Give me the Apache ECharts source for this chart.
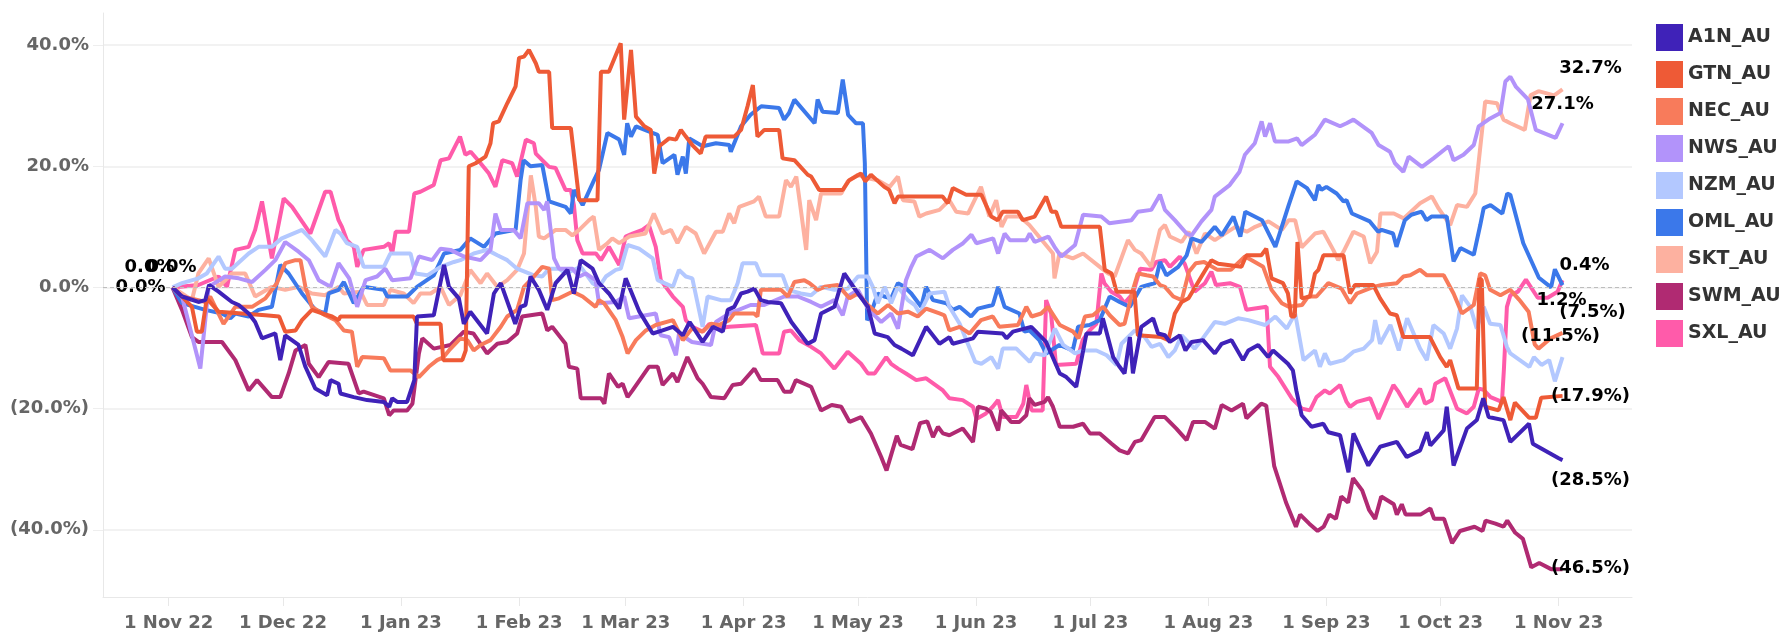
<!DOCTYPE html>
<html>
<head>
<meta charset="utf-8">
<title>Relative performance</title>
<script src="https://cdn.jsdelivr.net/npm/echarts@6/dist/echarts.min.js"></script>
<style>
  html, body { margin: 0; padding: 0; background: #fff; }
  #chart { width: 1779px; height: 635px; }
</style>
</head>
<body>
<div id="chart"></div>
<script>
// day 0 = first trading day of the window
const startDate = '2022-11-02';
const monthTicks = ['2022-11-01', '2022-12-01', '2023-01-01', '2023-02-01', '2023-03-01', '2023-04-01',
  '2023-05-01', '2023-06-01', '2023-07-01', '2023-08-01', '2023-09-01', '2023-10-01', '2023-11-01'];
const yTicks = [-40, -20, 0, 20, 40];

const names = ['A1N_AU', 'GTN_AU', 'NEC_AU', 'NWS_AU', 'NZM_AU', 'OML_AU', 'SKT_AU', 'SWM_AU', 'SXL_AU'];
const colors = ['#3f22b8', '#ee5a36', '#f87b5b', '#b293fa', '#b3c8ff', '#3b78ea', '#fdb1a0', '#b02a72', '#ff5baa'];

// [day, % change]
const A1N_AU = [[0,0],[2.5,-1.5],[6.8,-2.4],[8.6,-2.1],[9.6,0.4],[12.1,-0.7],[15.6,-2.4],[17.4,-2.9],[20,-4.3],[21.7,-5.7],[23.5,-8.4],[27,-7.6],[28.3,-12],[29.6,-7.9],[33.1,-9.5],[34.9,-13.1],[37.5,-16.7],[40.6,-17.8],[41.5,-15.3],[43.6,-15.9],[44.1,-17.5],[47.6,-18.1],[51.1,-18.6],[55.5,-18.9],[56.9,-19.7],[57.7,-18.3],[59,-18.9],[61.6,-18.9],[63.5,-15.3],[64.2,-4.8],[68.6,-4.6],[71.3,3.7],[72.6,0.1],[75.2,-1.8],[76.5,-6],[78.2,-4],[82.6,-7.6],[84.4,-1],[86.2,0.7],[90,-6],[91.4,-3.2],[92.7,-2.9],[94,1.8],[96.2,-0.4],[98.4,-3.7],[100.6,0.7],[103.7,2.9],[105.4,-1],[107.2,4.5],[110.3,3.1],[112,0.7],[114.6,-1],[117.3,-3.5],[119,1.5],[122.6,-4],[126.1,-7.6],[128.7,-7.1],[131.4,-6.5],[134,-7.9],[135.8,-5.7],[139.2,-9],[141.9,-6.5],[144.5,-7.3],[145.8,-3.7],[147.5,-3.2],[149.3,-1],[151,-0.7],[152.8,-0.2],[154.5,-2.1],[156.3,-2.4],[159.8,-2.6],[162.5,-5.7],[166.8,-9.3],[168.6,-8.7],[170.3,-4.3],[173.8,-3.2],[176.4,2.3],[180,-1],[182.6,-3.2],[184.4,-7.6],[187.8,-8.2],[189.6,-9.5],[191.4,-10.1],[194.4,-11.2],[197.9,-6.5],[201.4,-9.3],[204,-8.2],[204.9,-9.3],[210.2,-8.4],[211.5,-7.3],[218,-7.6],[219,-8.4],[220.7,-7.3],[225.5,-6.5],[229.4,-9],[233,-14.2],[234.7,-14.8],[237.3,-16.4],[240,-7.6],[243.5,-7.6],[244.3,-5.1],[247,-11.5],[248.7,-13.1],[250,-14.2],[251.4,-8.2],[252.2,-14.2],[254.4,-6.5],[257.5,-5.1],[258.8,-7.6],[260.6,-7.9],[261.9,-9],[264.5,-7.9],[266,-10.4],[267.6,-9],[270.6,-8.7],[273.7,-10.9],[275.5,-9.3],[278.1,-8.7],[281.1,-12],[282.5,-10.4],[285.1,-9.5],[287.7,-11.5],[289,-10.4],[292.9,-12.6],[294.2,-13.7],[295.1,-17],[296.5,-21.1],[299.1,-23],[302.2,-22.5],[303.5,-23.9],[306.6,-24.4],[308.8,-30.5],[310.1,-24.1],[314,-29.4],[317.1,-26.3],[321.5,-25.5],[324.1,-28],[327.6,-26.9],[329.4,-23.9],[330.3,-26.1],[333.8,-23.6],[334.6,-19.7],[336.4,-29.4],[339.9,-23.3],[342.5,-21.9],[344.2,-18.3],[345.6,-21.4],[349.5,-21.9],[351.3,-25.5],[356.2,-22.5],[357.2,-25.8],[364,-28.2],[365,-28.5]];

const GTN_AU = [[0,0],[2.5,-1.5],[5.1,-3.2],[6.4,-7.3],[7.7,-7.3],[9,-1.8],[12.1,-4],[24.4,-4.6],[28,-4.8],[29.6,-7.3],[32.3,-7.1],[34,-5.4],[36.6,-3.7],[39.3,-4.3],[41.9,-4.8],[43.6,-5.4],[44.1,-4.8],[63.3,-4.8],[64.2,-6],[70.4,-6],[71.1,-12],[76.1,-12],[77,-10.4],[77.8,20],[79.6,20.5],[82.2,21.6],[83.5,23.8],[84.2,27.1],[85.7,27.4],[87.9,30.4],[90.1,33.2],[91,37.9],[92.3,38.1],[93.6,39.2],[95.4,37],[96.2,35.6],[98.9,35.6],[99.7,26.3],[104.6,26.3],[106.8,14.4],[111.6,14.4],[112.5,35.6],[114.6,35.6],[117.7,40.3],[118.6,27.7],[120.4,39.2],[121.7,28.2],[123.9,26.6],[125.6,26],[126.5,18.8],[127.8,23.3],[130.4,24.6],[132.2,24.4],[133.5,26],[134.8,24.9],[136.5,23.5],[138.7,22.1],[140,24.9],[147.5,24.9],[149.3,26],[151,29.9],[152.4,33.4],[153.6,24.9],[155.4,26],[159.3,26],[160.2,21.3],[163.3,21],[166.8,18.6],[167.7,18.3],[169.8,16.1],[176,16.1],[177.7,17.7],[180.8,18.8],[181.9,17.5],[183.4,18.6],[186.9,16.6],[188.2,16.1],[189.6,13.9],[190.5,15],[202.2,15],[203.6,13.9],[204.9,16.4],[208.4,15.3],[212.4,15.3],[215,11.7],[216.7,11.1],[218,12.5],[222,12.5],[223.3,11.1],[226.4,11.7],[229.4,15],[230.8,12.5],[232,12.5],[233.4,10],[243.5,10],[244.8,2.9],[246.6,2.3],[247.9,-0.7],[252.6,-0.7],[253.5,-7.9],[259.7,-8.2],[261.5,-8.7],[263.2,-4.3],[265,-2.4],[266.8,-1.8],[270.2,1.8],[272.8,4.5],[274.6,3.9],[280.7,3.4],[282,5.3],[285.9,5.3],[287.2,6.4],[288.6,1.5],[291.6,0.7],[292.9,-1],[293.8,-4.8],[294.7,-4.8],[295.4,7.5],[296.5,-1.8],[298.7,-1.5],[300,2.3],[300.9,2.9],[302.2,5.3],[307.5,5.3],[309.2,-1],[310.5,0.4],[315.3,0.4],[317.1,-1.8],[319.7,-4.3],[321.5,-4.6],[323.2,-8.2],[330.2,-8.2],[332.9,-11.5],[334.6,-13.1],[335.5,-12],[337.7,-16.7],[342.5,-16.7],[343.2,1.5],[343.8,1.2],[344.7,-19.7],[348.2,-20.3],[349.5,-18.1],[351.3,-21.9],[352.5,-19],[356.2,-21.5],[358,-21.5],[359.4,-18.2],[365,-17.9]];

const NEC_AU = [[0,0],[2.5,-1.5],[6.8,-2.1],[8.6,-2.4],[9.9,-1.5],[13.4,-6],[16.5,-3.2],[20.9,-3.2],[24.4,-1.8],[27.4,0.7],[29.6,4],[32.3,4.5],[33.6,4.5],[34.9,0.1],[36.6,-3.2],[40.1,-4.6],[42.8,-5.4],[45,-7.1],[47.1,-7.3],[48.5,-13.1],[49.8,-11.5],[55.5,-11.7],[57.2,-13.7],[62.5,-13.7],[64.7,-14.8],[67.3,-13.1],[69.5,-12],[71.2,-11.5],[72.6,-10.4],[75.6,-8.4],[77.4,-8.7],[79.1,-10.4],[80.9,-9.5],[83.5,-8.7],[86.2,-6.5],[87.9,-4.8],[90.5,-3.7],[92.3,0.1],[94.9,1.8],[97.1,3.4],[98.9,3.1],[99.7,-2.1],[101.5,-1.8],[105,-0.7],[107.7,-1.5],[111.1,-3.2],[112,-2.1],[113.3,-2.6],[116.4,-5.4],[118.2,-8.2],[119.5,-10.9],[121.7,-8.7],[124.3,-7.1],[126.9,-6.2],[131.4,-5.4],[134,-8.7],[136.4,-6.8],[139.2,-7.3],[141.4,-6],[143.5,-6.2],[146.2,-5.4],[147.5,-4.3],[152.7,-4.3],[153.6,-4.8],[154.5,-0.4],[159.8,-0.4],[161.6,-1.5],[163.3,0.9],[165.9,1.2],[167.3,0.7],[169.4,-0.4],[171.2,0.1],[174.7,0.4],[177.8,-1.8],[180,-1],[182.6,-2.9],[185.2,-4.3],[187.9,-2.9],[190.5,-4.3],[193.1,-4],[195.7,-4.8],[197.9,-3.5],[201.4,-4.3],[202.7,-4.6],[204,-7.1],[206.7,-6.5],[209.3,-7.6],[212.3,-5.4],[215.4,-4.8],[217.1,-6.5],[222,-6.2],[224.2,-3.2],[225.6,-4.8],[228.1,-4.3],[229.9,-3.2],[233,-6.2],[236.5,-7.3],[237.9,-8.4],[239.6,-4.8],[241.7,-4.6],[244.4,-3.2],[246.1,-4.6],[248.7,-6.2],[250,-6],[252.2,-0.4],[253.5,2.3],[255.8,2],[257.5,1.8],[259.3,0.4],[260.6,0.1],[262.8,-1.5],[265,-2.1],[266.9,2.6],[268.7,4],[270.9,4.2],[274.4,2.9],[277.9,2.9],[281.6,5.1],[283.4,4.5],[286.4,3.4],[288.6,-0.4],[291.3,-2.6],[293.1,-3.2],[296.6,-2.9],[298.2,-1.5],[300.4,-1.5],[303.5,0.7],[307,-0.2],[309.2,-2.6],[311,-1],[315.4,0.1],[317.5,0.4],[321.5,0.7],[323.2,1.8],[325,2],[327.6,2.9],[329.4,2],[333.8,2],[336.4,-1],[338.6,-4.3],[341.7,-2.9],[343.4,2.3],[344.7,2],[346,-0.4],[348.7,-1.3],[351.3,-0.4],[353.6,-2],[356.1,-4],[357.7,-9.4],[358.7,-10.1],[361.9,-8.4],[365,-7.5]];

const NWS_AU = [[0,0],[2.5,-1.5],[7.3,-13.4],[9.5,0.1],[13.8,1.8],[17.4,1.5],[20.9,0.9],[24.4,2.9],[27,4.5],[29.6,7.5],[33.1,5.9],[35.8,4.5],[38.4,1.2],[41.5,0.1],[43.6,4],[44.1,4],[46.4,1.5],[48.5,-3.2],[50.7,1.2],[53.7,1.8],[55.9,3.1],[57.7,1.2],[62.5,1.5],[64.7,5.1],[68.2,4.5],[70.4,6.4],[73,6.2],[76.5,5.1],[80.9,4.5],[83.5,6.2],[84.8,12.2],[86.2,9.5],[89.6,9.5],[91.4,8.1],[93.2,13.9],[96.2,13.9],[97.6,12.8],[98.4,14.2],[100.2,4.8],[101.5,3.1],[105,3.1],[106.8,1.8],[108.5,2.3],[111.1,1.2],[112,-2.6],[116.4,-2.4],[118.6,-1.5],[119.9,-5.1],[126.9,-4.3],[128.2,-7.9],[130.4,-8.2],[132.2,-11.2],[133,-7.6],[136.4,-9],[141.4,-9.5],[142.7,-5.7],[146.2,-4.3],[147.5,-4],[151.8,-2.9],[155.4,-2.9],[160.6,-1.5],[164.2,-1.5],[167.7,-2.4],[170.3,-3.2],[173.8,-2.1],[176,-4.6],[177.3,-1.5],[180,-0.4],[182.6,-3.5],[186.1,-5.7],[188.7,-4.3],[190.5,-6.8],[192.6,1.2],[194,3.4],[195.3,5.1],[198.8,6.2],[202.3,4.8],[204.9,6.2],[207.6,7.3],[209.8,8.7],[211.1,7.3],[215.5,8.1],[216.8,5.6],[218.5,8.9],[219.9,7.8],[224.2,7.8],[225.1,8.9],[226.4,7.5],[230,8.4],[231.6,6.7],[233.4,5.1],[237,7],[239.1,12],[243.9,11.7],[246,10.6],[251.8,11.1],[253.5,12.5],[257,12.8],[259.3,15.3],[260.6,12.8],[263.2,11.1],[266.3,8.9],[267.6,8.6],[270.2,10.9],[272.8,12.8],[273.7,15],[277.6,16.9],[280.2,19.1],[281.6,21.9],[284.2,23.8],[286,27.4],[286.9,24.9],[288.2,27.1],[289.5,24.1],[293.1,24.1],[295.3,24.6],[296.5,23.5],[300,25.2],[302.6,27.7],[306.6,26.6],[308.3,27.1],[310.1,27.7],[314.9,25.5],[316.7,23.5],[319.7,22.4],[321,20.5],[323.2,19.1],[324.6,21.6],[328.1,19.9],[331.1,21.3],[335.1,23.3],[336.4,21],[339,21.9],[341.7,23.5],[343,26.6],[346,27.9],[348.7,28.8],[350,34],[351.3,34.8],[352.8,33.1],[355.9,31.1],[358,26],[363.2,24.7],[365,27.1]];

const NZM_AU = [[0,0],[2.5,0.7],[6.8,1.5],[9,2.3],[12.1,5.1],[13.8,3.1],[15.6,3.1],[20,5.6],[22.6,6.7],[26.1,6.7],[28.7,8.1],[34,9.5],[36.6,7.8],[40.1,5.1],[42.8,9.5],[44.1,8.9],[45.8,7.3],[48.5,6.7],[50.2,3.4],[55.5,3.4],[57.2,5.6],[62.5,5.6],[63.8,2.3],[66.9,2],[70.4,3.4],[73.9,4.2],[75.6,4.5],[79.1,5.6],[82.6,6.2],[85.3,5.3],[87.9,4.5],[90.5,3.1],[94.9,2],[97.1,1.8],[98.9,3.1],[101.5,3.1],[103.2,2.3],[107.2,3.4],[110.3,0.7],[112,0.1],[113.8,1.8],[116.4,2.9],[117.7,3.1],[119.5,7],[122.5,6.4],[126.1,4.8],[127.4,1.2],[131.4,0.1],[133,2.9],[134.8,1.8],[136.5,1.5],[139.2,-6.5],[140.5,-1.5],[144,-2.1],[146.6,-2.1],[148.4,0.7],[149.7,4],[153.2,4],[154.5,2],[160.2,2],[161.6,-0.4],[165,-1],[167.7,-1.3],[170.3,0.1],[173.8,-0.4],[177.3,-0.2],[180,1.8],[182.6,1.8],[183.9,0.1],[185.2,-2.6],[187,0.1],[188.7,-2.6],[190.5,0.1],[193.1,-2.1],[194.9,-2.9],[196.2,-4.3],[198.8,-1],[202.7,-0.7],[204,-3.2],[206.7,-6],[210.8,-12.3],[212.4,-12.6],[215,-11.5],[216.8,-13.4],[218,-10.1],[221.6,-10.1],[225.1,-12.3],[226.4,-10.9],[229,-11.2],[231.7,-6.8],[233.9,-9.5],[237,-10.9],[239.1,-10.4],[242.6,-10.4],[245.3,-11.2],[247.9,-12.8],[249.2,-9.3],[252.7,-7.1],[255.3,-8.2],[257.1,-9.8],[259.3,-9.3],[261.5,-11.5],[263.2,-10.4],[265,-7.9],[268.4,-10.1],[270.2,-8.7],[273.7,-5.7],[276.3,-6],[279.8,-5.1],[282.5,-5.4],[286.9,-6.2],[289.6,-4.8],[292.6,-6.8],[294.8,-4.3],[297,-12],[300,-10.4],[301.3,-13.1],[302.6,-10.9],[303.9,-12.6],[307.5,-12],[310.1,-10.6],[312.8,-10.1],[315,-8.7],[315.8,-5.4],[317.1,-9.3],[319.8,-6.2],[322,-10.4],[324.2,-5.1],[327.6,-10.1],[329.4,-12],[331.1,-6.2],[333.8,-7.6],[335.5,-10.1],[337.3,-6.8],[338.6,-1.3],[340.8,-3.2],[342.5,-6.8],[344.3,-3.2],[346,-6],[348.7,-6.2],[350.4,-9.8],[351.3,-10.9],[356.3,-13.1],[357.5,-11.5],[359.5,-12.8],[361.5,-12],[363,-15.5],[365,-11.5]];

const OML_AU = [[0,0],[2.5,-2.6],[8.6,-3.7],[13,-4.3],[15.2,-5.1],[16.5,-4.3],[20,-4.8],[22.6,-3.7],[26.1,-3.2],[28.3,3.7],[30.5,2.3],[34,-1],[37.5,-3.7],[40.1,-4.3],[41,-1],[43.6,-0.4],[45,0.9],[47.6,-2.6],[50.2,0.1],[55.5,-0.4],[56.4,-1.5],[61.6,-1.5],[64.2,0.1],[68.6,2],[71.3,5.6],[75.6,6.2],[78.2,8.1],[81.8,6.7],[84.8,8.9],[90.1,9.5],[91.4,17.7],[92.2,21],[94,20],[97.1,20.2],[98,17.2],[98.9,14.2],[103.2,13.3],[104.6,12.2],[105.4,16.1],[107.7,13.6],[110.7,17.7],[112,19.4],[114.2,25.5],[117.3,24.4],[118.6,21.9],[119.4,27.1],[120.4,24.9],[121.7,26.6],[125.2,25.7],[127.4,25.2],[128.7,20.5],[131.8,21.9],[132.6,18.6],[134,21.6],[134.8,18.8],[135.7,24.6],[139.2,23.3],[142.7,23.8],[146.2,23.5],[146.6,22.4],[149.3,26.6],[151.8,28.5],[154.6,29.9],[159.3,29.6],[160.6,27.7],[161.9,28.8],[163.3,31],[168.6,27.1],[169.4,31],[170.7,29],[174.7,28.8],[176,34.3],[177.4,28.5],[179.5,27.1],[181.3,27.1],[181.8,20.5],[182.4,-5.4],[183.4,-4.3],[185.2,-1],[186.9,-1.5],[188.7,-1.8],[190.5,0.7],[192.2,0.1],[194,-1],[196.6,-3.2],[197.9,0.1],[199.7,-2.1],[203.2,-2.6],[204.9,-3.7],[206.7,-3.2],[209.7,-4.8],[211.5,-3.5],[215.4,-2.9],[216.8,0.1],[218.5,-3.2],[222.4,-4.3],[223.7,-7.3],[225,-7.1],[227.6,-8.7],[229.4,-10.9],[232.9,-9.5],[236.4,-10.4],[237.8,-6.5],[240.8,-6.2],[243.5,-5.4],[246.1,-1.5],[248.7,-2.4],[251.4,-3.2],[254.4,0.1],[256.2,0.4],[258,0.7],[259.3,4.2],[261,2],[264.1,3.4],[266.3,5.3],[267.6,8.1],[270.2,7.5],[273.7,10],[275.5,8.6],[278.6,11.7],[280.4,8.4],[281.7,12.5],[286.1,11.1],[289.6,6.7],[293.1,13.6],[295.2,17.5],[297.9,16.4],[300,14.4],[300.9,16.9],[301.7,16.1],[303,16.6],[305.7,15.5],[307.5,14.2],[308.3,14.4],[309.7,12.2],[314.4,10.9],[316.6,9.2],[317.5,9.5],[320.5,8.9],[321.4,6.7],[323.6,11.1],[325.3,12],[328,12.5],[329.3,11.1],[330.6,11.7],[334.6,11.7],[336.4,4.3],[338.2,6.5],[341.7,5.4],[343.4,10.3],[344.3,13.1],[346.1,13.6],[349.2,12.2],[350.5,15.5],[351.3,15.3],[354.7,7.3],[358.8,1.6],[362,0],[363,3],[365,0.4]];

const SKT_AU = [[0,0],[2.5,-1],[5.1,-2.1],[6.8,2.3],[9.5,4.8],[12.1,0.1],[15.6,2.3],[19.1,2.3],[21.7,-1.5],[26.1,0.1],[29.6,-0.4],[33.1,0.1],[36.6,-1],[40.1,-1.3],[43.6,0.1],[45,-1],[49.4,-0.7],[51.1,-2.9],[55.5,-2.9],[57.2,-0.4],[60.7,-1],[63.3,-2.6],[65.1,-1],[67.8,-1],[70.4,0.1],[72.6,-2.9],[75.6,-1.3],[78.2,2.9],[80.9,0.7],[82.6,2.3],[85.3,0.1],[87.9,1.2],[90.5,2.9],[92.3,5.6],[93.2,12.2],[94.1,18.5],[95.4,13.3],[96.2,8.4],[97.6,8.1],[100.6,9.5],[103.2,9.5],[105,8.6],[106.8,9.5],[109.4,11.1],[110.6,11.7],[112,6.2],[114.2,7.3],[115.5,8.1],[117.3,7.3],[119.9,8.4],[124.2,8.9],[126.4,12.2],[128.7,8.9],[130.9,9.5],[132.6,7.3],[134.8,10],[137.4,8.9],[139.6,5.6],[142.7,9.2],[144.5,9.2],[146.2,12.2],[147.5,10.6],[148.8,13.3],[152.7,14.2],[154,15],[155.8,11.7],[159.3,11.7],[161.1,17.7],[162.4,16.6],[163.8,18.3],[165,12.8],[166.4,6.2],[167.2,14.4],[169,11.1],[170.3,15.5],[175.6,15.5],[177.3,17.5],[180,18.6],[182.6,18],[185.2,17.7],[188.3,16.6],[190.5,18.3],[191.8,14.4],[194.8,14.2],[196.1,11.7],[197.9,12.2],[201.4,12.8],[204,14.4],[205.8,12.5],[208.9,12.2],[212.3,16.6],[214.5,11.7],[216.3,14.4],[217.7,10],[219,11.7],[222.4,11.7],[225,10.3],[231.2,5.6],[231.6,1.5],[232.9,5.6],[236.4,4.8],[239.1,5.6],[243.5,3.4],[245.7,2.3],[247.4,1.8],[250.9,7.8],[252.7,6.2],[254.4,5.6],[257,3.4],[259.3,9.5],[260.6,10.3],[261.9,8.4],[265,7.5],[266.8,9.2],[268.9,5.6],[271.1,8.9],[273.7,7.8],[279.1,10],[282.1,9.2],[284.3,10],[287.8,10.9],[291.3,9.5],[293.1,11.1],[294.8,11.1],[296.5,6.6],[300,8.9],[302.2,9.2],[304.8,6.2],[306.1,4.5],[307.5,5.9],[310.1,9.2],[312.8,8.4],[314.5,4],[316.3,5.9],[317.2,12.2],[320.7,12.2],[323.3,11.4],[327.6,13.9],[330.7,15],[332.5,13],[335.5,10.3],[337.3,13.6],[339.9,13.3],[342.1,15.5],[344.7,30.7],[347.8,30.4],[349.5,27.7],[351.3,27.1],[355.1,26],[356.6,31.7],[358.7,32.4],[362.8,31.7],[365,32.7]];

const SWM_AU = [[0,0],[2.5,-3.7],[5.1,-8.2],[6.8,-9],[13,-9],[16.5,-12],[20,-17],[22.2,-15.3],[26.1,-18.1],[28.3,-18.1],[30.5,-14.2],[32.3,-10.4],[34.9,-9.5],[35.8,-12.6],[38.4,-14.8],[41,-12.3],[46.2,-12.6],[48.9,-17.5],[50.2,-17.2],[55.5,-18.3],[56.9,-21.1],[58.1,-20.3],[61.6,-20.3],[63,-19.2],[64.7,-10.9],[65.6,-8.4],[68.6,-10.1],[73,-9.5],[76.5,-7.3],[79,-7.6],[82.6,-10.9],[85.3,-9.3],[87.9,-9],[90.5,-7.6],[91.8,-4.8],[97.1,-4.3],[98.4,-7.1],[99.7,-6.5],[103.2,-9.3],[104.1,-13.1],[106.3,-13.4],[107.2,-18.3],[112.5,-18.3],[113.4,-19.2],[114.6,-14.2],[117,-16.4],[118.2,-15.9],[119.5,-18.1],[120.8,-17],[125.1,-13.1],[127.4,-13.1],[128.7,-16.1],[131.4,-14.2],[132.6,-15.6],[135.2,-11.5],[137.9,-15],[139.2,-15.9],[141.4,-18.1],[144.9,-18.3],[147.1,-16.1],[149.3,-15.9],[152.8,-13.4],[154.5,-15.3],[158.9,-15.3],[160.6,-17.2],[162.4,-17.2],[163.7,-15.3],[167.7,-16.4],[170.3,-20.3],[173.1,-19.4],[175.6,-19.7],[177.8,-22.2],[180.8,-21.4],[183.4,-24.1],[186.1,-28],[187.5,-30.2],[190.2,-24.5],[191.2,-26],[194.3,-26.7],[196.3,-22.4],[198.2,-22.1],[199.7,-24.7],[201,-23],[202.3,-24.1],[204,-24.4],[207.5,-23.3],[210.2,-25.5],[211.5,-19.7],[213.6,-20],[214.9,-20.6],[216.8,-23.6],[217.6,-20.3],[220.2,-22.2],[222.4,-22.2],[224.2,-21.1],[225,-18.3],[226.4,-19.4],[229,-18.9],[229.9,-18.1],[231.2,-19.7],[233,-23],[236.5,-23],[239.1,-22.5],[240.9,-24.1],[243.5,-24.1],[246.6,-25.8],[248.7,-26.9],[250.9,-27.4],[252.7,-25.5],[254.4,-25.2],[257.9,-21.4],[260.6,-21.4],[263.6,-23.3],[266.3,-25.2],[268,-22.2],[271.1,-22.2],[273.7,-23.3],[275.5,-19.4],[278.1,-20.3],[281.1,-19.2],[282,-21.6],[285.9,-19.2],[287.2,-19.5],[289.3,-29.5],[292.4,-35.5],[295,-39.5],[296.1,-37.5],[298.5,-39],[300.7,-40.2],[302.3,-39.5],[303.8,-37.5],[305.5,-38.2],[306.9,-34.5],[308.7,-35.5],[310,-31.5],[312.4,-33.5],[314.2,-36.7],[315.8,-38.2],[317.4,-34.5],[320.7,-35.8],[321.5,-37.5],[322.8,-35.8],[323.8,-37.5],[327.7,-37.5],[330.3,-36.5],[331.3,-38.2],[333.9,-38.2],[336,-42.2],[338.1,-40.2],[341.9,-39.5],[344,-40.2],[344.8,-38.5],[347.4,-39],[349.5,-39.5],[350.5,-38.5],[352.6,-40.5],[354.6,-41.5],[356.8,-46.2],[358.9,-45.5],[362,-46.5],[365,-46.5]];

const SXL_AU = [[0,0],[6.8,0.4],[12.1,1.8],[14.3,0.1],[16.5,6.2],[20,6.7],[21.7,9.5],[23.5,14.2],[26.1,4.8],[29.2,14.7],[31.4,13.3],[34,10.9],[36.2,8.9],[40.1,15.8],[41.5,15.8],[43.6,11.1],[44.5,10],[45.8,7.8],[47.6,6.7],[48.5,3.4],[50.2,6.2],[55.5,6.7],[56.9,7.3],[57.7,5.6],[58.6,9.2],[62.1,9.2],[63.5,15.5],[65.1,15.8],[68.6,16.9],[70.4,21],[72.6,21.3],[75.5,24.9],[76.9,21.9],[78.3,22.4],[80.9,20.5],[83.1,18.8],[84.8,16.6],[86.6,21],[89.2,20.5],[90.5,18.3],[92.8,24.4],[94.9,23.8],[95.4,22.1],[97.1,21],[98.9,19.9],[100.6,19.7],[103.2,16.1],[104.6,16.1],[105.4,13.6],[106.3,7.8],[107.7,5.6],[111.2,5.6],[112.5,4.5],[114.6,6.7],[117.3,3.7],[119,8.4],[120.8,8.9],[123.4,9.5],[125.1,10.3],[126.9,6.7],[128.2,1.2],[131.4,-1.5],[134,-3.2],[134.8,-5.4],[136.5,-6.5],[139.2,-7.3],[141,-6],[142.7,-6.8],[146.2,-6.5],[153.2,-6.2],[155,-10.9],[159.3,-10.9],[160.6,-7.3],[162.4,-7.1],[164.6,-8.7],[167.7,-9.8],[170.3,-10.9],[173.8,-13.4],[177.3,-10.6],[180.8,-12.6],[182.6,-14.2],[184.4,-14.2],[187.4,-11.5],[188.7,-12.6],[190.5,-13.4],[192.6,-14.2],[195.3,-15.3],[197.9,-15],[202.3,-17],[204,-18.3],[207.5,-18.6],[210.2,-19.7],[211.1,-21.7],[213.6,-20.8],[215.4,-19.7],[216.8,-18.6],[218,-21.4],[221.6,-21.4],[223.4,-19.2],[224.2,-16.1],[225.6,-20.3],[228.5,-20.3],[229.4,-2.1],[230.7,-4.3],[232,-12.8],[237.3,-12.6],[239,-8.7],[240.8,-7.1],[242.6,-6],[243.9,2.3],[244.7,0.7],[246.5,-0.7],[248.7,-1.5],[250,-2.6],[252.2,-1],[254.1,3.1],[257,2.9],[258.3,4.2],[260.6,4.5],[261.9,3.4],[264.5,5.1],[265.8,3.9],[268.4,-0.7],[271.1,0.7],[272.8,2.6],[274,0.4],[277.7,0.7],[280.3,0.1],[282,-3.7],[287.3,-3.2],[288.2,-13.1],[290.4,-14.8],[293.9,-18.3],[296.6,-20],[298.7,-20.3],[300.4,-18.1],[302.6,-17],[303.9,-17.5],[306.6,-16.1],[308.3,-18.9],[309.2,-19.7],[311,-18.9],[314.5,-18.3],[316.7,-21.7],[320.6,-16.1],[321.9,-17.2],[324.2,-19.7],[327.6,-16.7],[328.9,-19.2],[330.7,-18.6],[331.6,-15.9],[334.2,-15],[337.3,-20],[339.9,-20.8],[341.7,-19.7],[343,-16.7],[344.3,-16.9],[346.1,-18.1],[349.1,-18.9],[349.6,-13.7],[350.4,-3.2],[351.3,-1.3],[353.3,-0.7],[355.4,1.3],[358.5,-1.7],[361.1,-1.7],[363.7,-0.7],[365,1.2]];

const seriesValues = [A1N_AU, GTN_AU, NEC_AU, NWS_AU, NZM_AU, OML_AU, SKT_AU, SWM_AU, SXL_AU];

// label placement relative to the point (style only)
const endLabelOffset = {
  A1N_AU: [28, 20], GTN_AU: [28, 0], NEC_AU: [30, -21], NWS_AU: [0, -19], NZM_AU: [-2, -21],
  OML_AU: [22, -20], SKT_AU: [28, -21], SWM_AU: [28, -1], SXL_AU: [-1, 20]
};
const startLabelOffset = { A1N_AU: [-32, 0], GTN_AU: [-23, -20], NEC_AU: [-1, -20] };

const DAY = 86400000;
const base = Date.parse(startDate);
const tickDays = monthTicks.map(t => Math.round((Date.parse(t) - base) / DAY));
const monthNames = ['Jan', 'Feb', 'Mar', 'Apr', 'May', 'Jun', 'Jul', 'Aug', 'Sep', 'Oct', 'Nov', 'Dec'];
function dayLabel(v) {
  const d = new Date(base + Math.round(v) * DAY);
  return d.getUTCDate() + ' ' + monthNames[d.getUTCMonth()] + ' ' + String(d.getUTCFullYear()).slice(2);
}
function pct(v) {
  return v < 0 ? '(' + Math.abs(v).toFixed(1) + '%)' : v.toFixed(1) + '%';
}

const lastDay = Math.max(...seriesValues.map(s => s[s.length - 1][0]));
const pad = lastDay * 0.05;

const FONT = 'DejaVu Sans';
const labelText = { fontFamily: FONT, fontWeight: 'bold', fontSize: 18, color: '#000' };

const series = [];
for (let i = names.length - 1; i >= 0; i--) {
  const name = names[i];
  const pts = seriesValues[i];
  const data = pts.map((p, j) => {
    if (j === pts.length - 1) {
      return { value: p, label: Object.assign({ show: true, position: 'inside', offset: endLabelOffset[name] }, labelText) };
    }
    if (j === 0 && startLabelOffset[name]) {
      return { value: p, label: Object.assign({ show: true, position: 'inside', offset: startLabelOffset[name] }, labelText) };
    }
    return p;
  });
  const s = {
    name: name,
    type: 'line',
    data: data,
    color: colors[i],
    showSymbol: true,
    showAllSymbol: true,
    symbol: 'circle',
    symbolSize: 0.5,
    lineStyle: { width: 4, color: colors[i] },
    itemStyle: { color: colors[i] },
    label: { show: false, formatter: p => pct(p.value[1]) },
    emphasis: { disabled: true }
  };
  if (i === names.length - 1) {
    s.markLine = {
      silent: true,
      symbol: 'none',
      label: { show: false },
      lineStyle: { color: '#bdbdbd', type: [4, 3], width: 1 },
      data: [{ yAxis: 0 }]
    };
  }
  series.push(s);
}

const chart = echarts.init(document.getElementById('chart'), null, { renderer: 'canvas' });
chart.setOption({
  animation: false,
  backgroundColor: '#fff',
  textStyle: { fontFamily: FONT },
  grid: { left: 103, right: 147, top: 13, bottom: 38, outerBoundsMode: 'none' },
  legend: {
    data: names,
    orient: 'vertical',
    left: 1651,
    top: 19,
    itemWidth: 27,
    itemHeight: 27,
    itemGap: 10,
    icon: 'rect',
    selectedMode: false,
    textStyle: { fontFamily: FONT, fontWeight: 'bold', fontSize: 19, color: '#333' }
  },
  xAxis: {
    type: 'value',
    min: -pad,
    max: lastDay + pad,
    axisLine: { show: true, onZero: false, lineStyle: { color: '#e8e8e8', width: 1 } },
    axisTick: { show: true, length: 9, customValues: tickDays, lineStyle: { color: '#e8e8e8' } },
    axisLabel: {
      customValues: tickDays,
      formatter: dayLabel,
      margin: 17,
      fontFamily: FONT,
      fontWeight: 'bold',
      fontSize: 18,
      color: '#666'
    },
    splitLine: { show: false }
  },
  yAxis: {
    type: 'value',
    min: -51.1,
    max: 45.3,
    axisLine: { show: true, onZero: false, lineStyle: { color: '#e8e8e8', width: 1 } },
    axisTick: { show: true, length: 10, customValues: yTicks, lineStyle: { color: '#eeeeee' } },
    axisLabel: {
      customValues: yTicks,
      formatter: pct,
      margin: 14,
      fontFamily: FONT,
      fontWeight: 'bold',
      fontSize: 18,
      color: '#666'
    },
    splitLine: { show: true, lineStyle: { color: '#eeeeee', width: 1.5 } }
  },
  series: series
});
</script>
</body>
</html>
